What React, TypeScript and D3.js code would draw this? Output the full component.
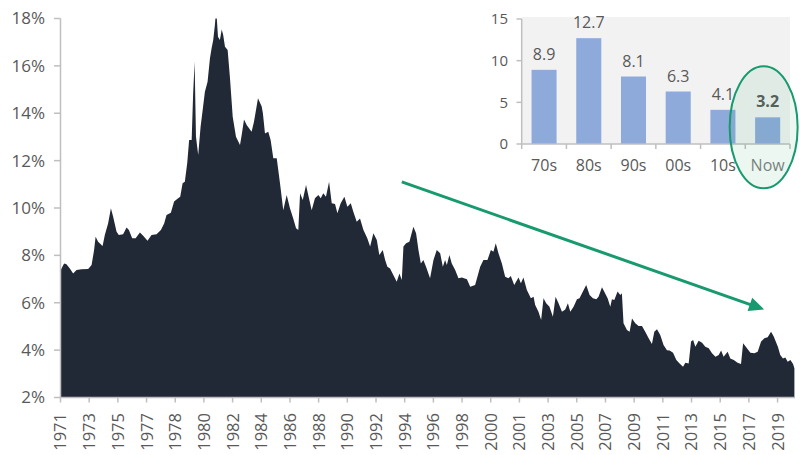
import React from "react";
import * as d3 from "d3";

// 30-year mortgage rate (%), [decimal year, rate]
const mortgageRates: [number, number][] = [
  [1971.27, 7.38], [1971.49, 7.66], [1971.65, 7.63], [1971.88, 7.45], [1972.1, 7.24],
  [1972.33, 7.38], [1972.66, 7.41], [1973.11, 7.42], [1973.34, 7.59], [1973.51, 8.23],
  [1973.61, 8.79], [1973.78, 8.58], [1974.08, 8.4], [1974.23, 8.86], [1974.45, 9.35],
  [1974.64, 9.99], [1974.79, 9.63], [1975.02, 9.0], [1975.17, 8.86], [1975.46, 8.89],
  [1975.69, 9.18], [1975.85, 9.07], [1976.07, 8.72], [1976.3, 8.72], [1976.59, 8.97],
  [1976.81, 8.83], [1977.1, 8.62], [1977.37, 8.86], [1977.71, 8.89], [1978.0, 9.07],
  [1978.22, 9.35], [1978.38, 9.7], [1978.67, 9.8], [1978.89, 10.27], [1979.16, 10.41],
  [1979.3, 10.48], [1979.46, 11.04], [1979.61, 11.11], [1979.77, 11.89], [1979.9, 12.87],
  [1980.07, 12.87], [1980.17, 14.84], [1980.27, 16.17], [1980.36, 13.01], [1980.51, 12.24],
  [1980.67, 13.43], [1980.81, 14.14], [1980.96, 14.91], [1981.14, 15.33], [1981.3, 16.32],
  [1981.41, 16.74], [1981.52, 17.09], [1981.63, 17.72], [1981.72, 18.4], [1981.84, 17.23],
  [1981.97, 17.09], [1982.09, 17.54], [1982.19, 17.3], [1982.31, 16.81], [1982.49, 16.67],
  [1982.64, 15.54], [1982.83, 13.85], [1983.05, 13.01], [1983.32, 12.66], [1983.45, 13.15],
  [1983.59, 13.74], [1983.77, 13.5], [1983.94, 13.36], [1984.1, 13.22], [1984.26, 13.64],
  [1984.53, 14.63], [1984.78, 14.28], [1984.86, 14.0], [1985.0, 13.15], [1985.22, 13.22],
  [1985.38, 12.87], [1985.56, 12.1], [1985.79, 12.1], [1986.01, 11.04], [1986.23, 9.91],
  [1986.46, 10.55], [1986.68, 9.99], [1986.9, 9.56], [1987.09, 9.14], [1987.24, 9.07],
  [1987.36, 10.62], [1987.54, 10.34], [1987.76, 10.97], [1987.91, 10.55], [1988.14, 9.91],
  [1988.36, 10.41], [1988.59, 10.55], [1988.75, 10.41], [1988.92, 10.62], [1989.1, 10.48],
  [1989.31, 11.11], [1989.49, 10.2], [1989.71, 10.17], [1989.87, 9.78], [1990.09, 10.2],
  [1990.34, 10.48], [1990.54, 10.05], [1990.77, 10.2], [1990.94, 9.84], [1991.17, 9.42],
  [1991.39, 9.56], [1991.62, 9.07], [1991.88, 8.72], [1992.07, 8.37], [1992.29, 8.93],
  [1992.52, 8.65], [1992.69, 8.02], [1992.92, 8.23], [1993.08, 7.8], [1993.23, 7.52],
  [1993.41, 7.45], [1993.63, 7.17], [1993.86, 6.89], [1994.04, 7.24], [1994.2, 6.96],
  [1994.31, 8.37], [1994.49, 8.51], [1994.71, 8.58], [1994.98, 9.21], [1995.16, 8.93],
  [1995.32, 8.23], [1995.48, 7.66], [1995.65, 7.8], [1995.83, 7.52], [1996.1, 7.03],
  [1996.33, 7.8], [1996.55, 8.23], [1996.78, 8.09], [1996.96, 7.52], [1997.11, 7.8],
  [1997.23, 7.59], [1997.4, 8.02], [1997.56, 7.66], [1997.79, 7.38], [1998.01, 7.03],
  [1998.24, 7.07], [1998.58, 6.99], [1998.8, 6.68], [1999.13, 6.75], [1999.47, 7.52],
  [1999.69, 7.8], [1999.96, 7.8], [2000.19, 8.23], [2000.36, 8.15], [2000.52, 8.51],
  [2000.7, 8.09], [2000.93, 7.66], [2001.15, 7.1], [2001.37, 7.03], [2001.53, 7.13],
  [2001.76, 6.75], [2002.05, 7.07], [2002.21, 6.82], [2002.38, 7.07], [2002.61, 6.54],
  [2002.88, 6.19], [2003.06, 6.25], [2003.17, 5.9], [2003.39, 5.62], [2003.57, 5.27],
  [2003.73, 6.19], [2003.91, 5.98], [2004.13, 5.83], [2004.36, 5.41], [2004.54, 6.25],
  [2004.74, 5.98], [2004.97, 5.62], [2005.19, 5.72], [2005.37, 5.98], [2005.53, 5.62],
  [2005.75, 5.83], [2005.98, 6.15], [2006.15, 6.19], [2006.38, 6.47], [2006.6, 6.75],
  [2006.83, 6.33], [2007.05, 6.19], [2007.28, 6.15], [2007.43, 6.25], [2007.66, 6.65],
  [2007.81, 6.47], [2008.04, 6.19], [2008.22, 5.83], [2008.33, 6.15], [2008.49, 6.12],
  [2008.71, 6.47], [2008.89, 6.33], [2009.0, 6.4], [2009.11, 5.13], [2009.34, 4.85],
  [2009.52, 4.78], [2009.68, 5.34], [2009.9, 5.13], [2010.12, 5.02], [2010.35, 5.02],
  [2010.57, 4.78], [2010.8, 4.5], [2011.02, 4.26], [2011.18, 4.78], [2011.36, 4.88],
  [2011.58, 4.64], [2011.8, 4.22], [2012.03, 4.0], [2012.21, 3.98], [2012.44, 3.89],
  [2012.66, 3.58], [2012.88, 3.44], [2013.11, 3.3], [2013.27, 3.47], [2013.49, 3.44],
  [2013.65, 4.36], [2013.79, 4.43], [2013.94, 4.14], [2014.16, 4.4], [2014.39, 4.31],
  [2014.61, 4.14], [2014.84, 4.08], [2015.06, 3.87], [2015.29, 3.72], [2015.51, 3.79],
  [2015.67, 3.98], [2015.84, 3.72], [2016.11, 3.93], [2016.29, 3.65], [2016.52, 3.58],
  [2016.78, 3.47], [2017.01, 3.41], [2017.15, 4.29], [2017.41, 4.08], [2017.64, 3.89],
  [2017.91, 3.87], [2018.13, 3.93], [2018.36, 4.36], [2018.58, 4.5], [2018.8, 4.54],
  [2019.03, 4.78], [2019.21, 4.57], [2019.49, 4.14], [2019.65, 3.79], [2019.83, 3.65],
  [2019.99, 3.69], [2020.15, 3.51], [2020.33, 3.58], [2020.51, 3.41], [2020.6, 3.23],
];

const yTickValues = [2, 4, 6, 8, 10, 12, 14, 16, 18];
const xTickLabels = [
  "1971", "1973", "1975", "1977", "1978", "1980", "1982", "1984", "1986", "1988",
  "1990", "1992", "1994", "1996", "1998", "2000", "2001", "2003", "2005", "2007",
  "2009", "2011", "2013", "2015", "2017", "2019",
];
const xTickStart = 1971.25; // first labelled observation
const xTickStep = 1.9287; // years between labelled observations

const decades = ["70s", "80s", "90s", "00s", "10s", "Now"];
const decadeAverages = [8.9, 12.7, 8.1, 6.3, 4.1, 3.2];
const insetTickValues = [0, 5, 10, 15];

const trendFrom: [number, number] = [1994.2, 11.1];
const trendTo: [number, number] = [2018.56, 5.72];

const FONT = "'Open Sans', 'DejaVu Sans', sans-serif";
const TEXT = "#595959";
const AXIS = "#bfbfbf";
const AREA = "#222936";
const GREEN = "#179a6d";
const BAR = "#8eaadb";

export default function App() {
  const W = 800;
  const H = 455;

  const x = d3.scaleLinear().domain([1971.25, 2020.62]).range([60.5, 794.7]);
  const y = d3.scaleLinear().domain([2, 18]).range([397.5, 18.5]);

  const area = d3
    .area<[number, number]>()
    .x((d) => x(d[0]))
    .y0(y(2))
    .y1((d) => y(d[1]))
    .curve(d3.curveLinear);

  const xTicks = xTickLabels.map((label, i) => ({ label, pos: x(xTickStart + i * xTickStep) }));

  // inset
  const ix = d3.scaleBand<string>().domain(decades).range([521.7, 790]).paddingInner(0.44).paddingOuter(0.22);
  const iy = d3.scaleLinear().domain([0, 15]).range([144, 19]);
  const step = ix.step();

  // arrow
  const ax0 = x(trendFrom[0]);
  const ay0 = y(trendFrom[1]);
  const ax1 = x(trendTo[0]);
  const ay1 = y(trendTo[1]);
  const ang = Math.atan2(ay1 - ay0, ax1 - ax0);
  const headLen = 15;
  const headHalf = 7;
  const bx = ax1 - headLen * Math.cos(ang);
  const by = ay1 - headLen * Math.sin(ang);
  const head = [
    [ax1, ay1],
    [bx + headHalf * Math.sin(ang), by - headHalf * Math.cos(ang)],
    [bx - headHalf * Math.sin(ang), by + headHalf * Math.cos(ang)],
  ];

  const nowX = (ix("Now") ?? 0) + ix.bandwidth() / 2 - 4;

  return (
    <svg width={W} height={H} style={{ display: "block", position: "absolute", left: 0, top: 0 }} fontFamily={FONT}>
      <rect width={W} height={H} fill="#ffffff" />
      <defs>
        <clipPath id="plotClip">
          <rect x={60} y={y(18)} width={740} height={y(2) - y(18)} />
        </clipPath>
      </defs>

      <path d={area(mortgageRates) ?? ""} fill={AREA} clipPath="url(#plotClip)" />

      {/* y axis */}
      <line x1={60.5} x2={60.5} y1={y(18)} y2={y(2)} stroke={AXIS} strokeWidth={1.5} />
      {yTickValues.map((v) => (
        <g key={v}>
          <line x1={54} x2={60.5} y1={y(v)} y2={y(v)} stroke={AXIS} strokeWidth={1.5} />
          <text x={45} y={y(v)} dy="0.35em" textAnchor="end" fontSize={17} fill={TEXT}>
            {v}%
          </text>
        </g>
      ))}

      {/* x axis */}
      <line x1={60} x2={795} y1={y(2)} y2={y(2)} stroke={AXIS} strokeWidth={1.5} />
      {xTicks.map((t) => (
        <g key={t.label}>
          <line x1={t.pos} x2={t.pos} y1={y(2)} y2={y(2) + 5} stroke={AXIS} strokeWidth={1.5} />
          <text
            transform={`translate(${t.pos},${413}) rotate(-90)`}
            dy="0.36em"
            textAnchor="end"
            fontSize={16.5}
            fill={TEXT}
          >
            {t.label}
          </text>
        </g>
      ))}

      {/* trend arrow */}
      <line x1={ax0} y1={ay0} x2={bx + 2 * Math.cos(ang)} y2={by + 2 * Math.sin(ang)} stroke={GREEN} strokeWidth={3} />
      <polygon points={head.map((p) => p.join(",")).join(" ")} fill={GREEN} />

      {/* inset chart */}
      <rect x={521.7} y={17} width={790 - 521.7} height={144 - 17} fill="#f2f2f2" />
      {decades.map((d, i) => (
        <rect
          key={d}
          x={ix(d)}
          y={iy(decadeAverages[i])}
          width={ix.bandwidth()}
          height={iy(0) - iy(decadeAverages[i])}
          fill={BAR}
        />
      ))}
      <line x1={521.7} x2={521.7} y1={19} y2={144} stroke={AXIS} strokeWidth={1.5} />
      <line x1={521.7} x2={790} y1={144} y2={144} stroke={AXIS} strokeWidth={1.5} />
      {insetTickValues.map((v) => (
        <g key={v}>
          <line x1={516.5} x2={521.7} y1={iy(v)} y2={iy(v)} stroke={AXIS} strokeWidth={1.5} />
          <text x={508} y={iy(v)} dy="0.35em" textAnchor="end" fontSize={15} fill={TEXT}>
            {v}
          </text>
        </g>
      ))}
      {d3.range(decades.length + 1).map((i) => (
        <line key={i} x1={521.7 + i * step} x2={521.7 + i * step} y1={144} y2={149} stroke={AXIS} strokeWidth={1.5} />
      ))}
      {decades.map((d, i) => (
        <g key={d}>
          <text
            x={(ix(d) ?? 0) + ix.bandwidth() / 2}
            y={iy(decadeAverages[i]) - 10}
            textAnchor="middle"
            fontSize={16}
            fontWeight={d === "Now" ? 700 : 400}
            fill={TEXT}
          >
            {decadeAverages[i].toFixed(1)}
          </text>
          <text
            x={(ix(d) ?? 0) + ix.bandwidth() / 2}
            y={171}
            textAnchor="middle"
            fontSize={16}
            fill={d === "Now" ? "#7f7f7f" : TEXT}
          >
            {d}
          </text>
        </g>
      ))}
      <ellipse cx={nowX} cy={iy(2)} rx={34} ry={61} fill="rgba(40,170,110,0.09)" stroke={GREEN} strokeWidth={2} />
    </svg>
  );
}
